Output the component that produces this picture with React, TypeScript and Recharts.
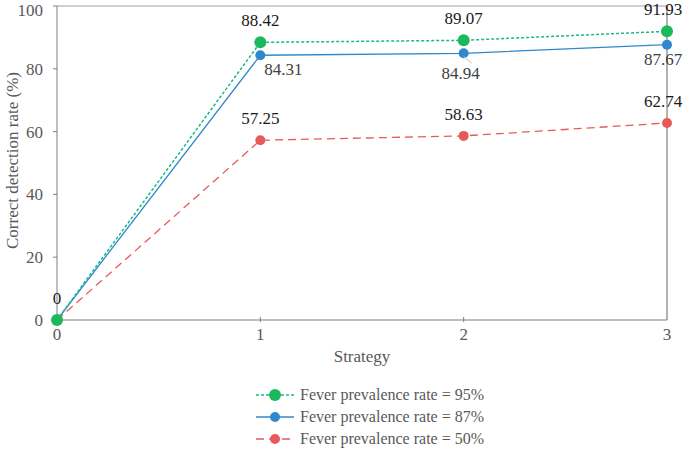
import {
	CartesianGrid,
	LabelList,
	Legend,
	Line,
	LineChart,
	ReferenceLine,
	XAxis,
	YAxis,
} from "recharts";

const strategies = [0, 1, 2, 3];
const rate95 = [0, 88.42, 89.07, 91.93];
const rate87 = [0, 84.31, 84.94, 87.67];
const rate50 = [0, 57.25, 58.63, 62.74];
const yTicks = [0, 20, 40, 60, 80, 100];

const data = strategies.map((s, i) => ({
	strategy: s,
	r95: rate95[i],
	r87: rate87[i],
	r50: rate50[i],
}));

const font = "'Times New Roman', 'Liberation Serif', serif";
const GREEN = "#1cb85c";
const GREEN_LINE = "#19b98a";
const BLUE = "#2f88cc";
const RED = "#e85a5a";

const makeLabel =
	(place: "above" | "below", skipZero: boolean) => (props: any) => {
		const { x, y, value, index } = props;
		if (skipZero && index === 0) return null;
		let dx = 0;
		let dy = place === "above" ? -16 : 20;
		if (place === "below") {
			if (index === 1) dx = 23;
			if (index === 2) dx = -3;
			if (index === 2) dy = 26;
		}
		if (index === 3) dx = -4;
		if (index === 0) dy = -16;
		return (
			<g>
				{place === "below" && index === 2 && (
					<line x1={x} y1={y + 3} x2={x + 8} y2={y + 10} stroke="#bfbfbf" />
				)}
				<text
					x={x + dx}
					y={y + dy}
					textAnchor="middle"
					style={{ fontFamily: font, fontSize: 17 }}
					fill={index === 0 || place === "above" ? "#1a1a1a" : "#404040"}
				>
					{value}
				</text>
			</g>
		);
	};

const legendItems = [
	{ name: "Fever prevalence rate = 95%", color: GREEN, line: GREEN_LINE, dash: "3 2", r: 6 },
	{ name: "Fever prevalence rate = 87%", color: BLUE, line: BLUE, dash: "", r: 5 },
	{ name: "Fever prevalence rate = 50%", color: RED, line: RED, dash: "8 5", r: 5 },
];

const LegendBox = () => (
	<div style={{ height: 76, paddingTop: 9, boxSizing: "border-box" }}>
		{legendItems.map((it) => (
			<div
				key={it.name}
				style={{
					display: "flex",
					alignItems: "center",
					height: 22,
					marginLeft: 242,
					fontFamily: font,
					fontSize: 16,
					color: "#595959",
				}}
			>
				<svg width={42} height={14} style={{ marginRight: 4 }}>
					<line
						x1={2}
						y1={7}
						x2={40}
						y2={7}
						stroke={it.line}
						strokeWidth={1.5}
						strokeDasharray={it.dash}
					/>
					<circle cx={21} cy={7} r={it.r} fill={it.color} />
				</svg>
				{it.name}
			</div>
		))}
	</div>
);

const XTick = (props: any) => {
	const { x, y, payload } = props;
	return (
		<g>
			{payload.value > 0 && payload.value < 3 && (
				<line x1={x} y1={y - 6} x2={x} y2={y - 11} stroke="#7f7f7f" />
			)}
			<text
				x={x}
				y={y + 12}
				textAnchor="middle"
				style={{ fontFamily: font, fontSize: 17 }}
				fill="#595959"
			>
				{payload.value}
			</text>
		</g>
	);
};

export default function App() {
	return (
		<div style={{ position: "absolute", left: 0, top: 0, fontFamily: font }}>
			<LineChart
				width={685}
				height={451}
				data={data}
				margin={{ top: 6, right: 18, left: 12, bottom: 0 }}
				style={{ fontFamily: font }}
			>
				<CartesianGrid horizontal={false} vertical={false} />
				<ReferenceLine y={100} stroke="#bfbfbf" strokeWidth={1.5} />
				<ReferenceLine x={3} stroke="#7f7f7f" strokeWidth={1.2} />
				<XAxis
					dataKey="strategy"
					type="number"
					domain={[0, 3]}
					ticks={strategies}
					height={55}
					tickLine={false}
					axisLine={{ stroke: "#7f7f7f" }}
					tick={<XTick />}
					label={{
						value: "Strategy",
						position: "insideBottom",
						offset: 13,
						style: { fontFamily: font, fontSize: 17 },
						fill: "#595959",
					}}
				/>
				<YAxis
					type="number"
					domain={[0, 100]}
					ticks={yTicks}
					width={45}
					tickSize={4}
					tickMargin={10}
					tickLine={{ stroke: "#7f7f7f" }}
					axisLine={{ stroke: "#7f7f7f" }}
					tick={{ style: { fontFamily: font, fontSize: 17 }, fill: "#595959" }}
					label={{
						value: "Correct detection rate (%)",
						angle: -90,
						position: "insideLeft",
						dx: -5,
						dy: 86,
						style: { fontFamily: font, fontSize: 17 },
						fill: "#595959",
					}}
				/>
				<Legend verticalAlign="bottom" content={<LegendBox />} />
				<Line
					dataKey="r50"
					stroke={RED}
					strokeWidth={1.3}
					strokeDasharray="8 5"
					dot={{ r: 5, fill: RED, stroke: RED, strokeWidth: 0 }}
					isAnimationActive={false}
				>
					<LabelList dataKey="r50" content={makeLabel("above", true)} />
				</Line>
				<Line
					dataKey="r87"
					stroke={BLUE}
					strokeWidth={1.3}
					dot={{ r: 5, fill: BLUE, stroke: BLUE, strokeWidth: 0 }}
					isAnimationActive={false}
				>
					<LabelList dataKey="r87" content={makeLabel("below", true)} />
				</Line>
				<Line
					dataKey="r95"
					stroke={GREEN_LINE}
					strokeWidth={1.5}
					strokeDasharray="3 2"
					dot={{ r: 6, fill: GREEN, stroke: GREEN, strokeWidth: 0 }}
					isAnimationActive={false}
				>
					<LabelList dataKey="r95" content={makeLabel("above", false)} />
				</Line>
			</LineChart>
		</div>
	);
}
